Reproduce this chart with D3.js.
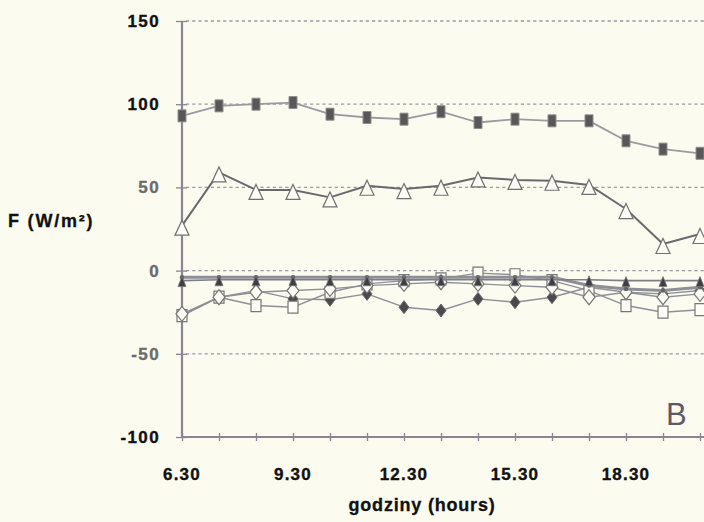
<!DOCTYPE html>
<html>
<head>
<meta charset="utf-8">
<script src="https://cdn.jsdelivr.net/npm/d3@7"></script>
<style>
  html, body { margin: 0; padding: 0; background: #fbfbf0; }
  svg { display: block; }
  text { font-family: "Liberation Sans", Arial, sans-serif; }
</style>
</head>
<body>
<svg id="chart" width="704" height="522"></svg>
<script>
// Hourly energy-balance fluxes, panel B
const hours = ["6.30","7.30","8.30","9.30","10.30","11.30","12.30","13.30","14.30","15.30","16.30","17.30","18.30","19.30","20.30"];
const labeledHours = ["6.30","9.30","12.30","15.30","18.30"];
const yTicks = [-100, -50, 0, 50, 100, 150];
const gridValues = [-50, 0, 50, 100, 150];

const netRadiation   = [93, 99, 100, 101, 94, 92, 91, 95.5, 89, 91, 90, 90, 78, 73, 70.5];
const openTriangles  = [27, 59, 48.5, 48.5, 44, 51, 49, 51, 56, 54.5, 54, 51.5, 37, 16, 22];
const filledDiamonds = [-27, -16, -12, -17, -17.5, -14, -22, -24, -17, -19, -16, -10, -13, -14, -12];
const openSquares    = [-27, -16, -21, -22, -13, -8, -6, -5, -1.5, -2.5, -6, -12, -21, -25, -23.5];
const openDiamonds   = [-26, -16, -13, -12, -11, -9, -8, -7, -8, -9, -10, -16, -13, -16, -14];
const smallDots      = [-4, -4, -4, -4, -4, -4, -4, -4, -4, -4, -4, -9, -11, -12, -10];
const filledTriangles= [-6, -5.5, -5.5, -5.5, -5.5, -5.5, -5.5, -5.5, -5.5, -5.5, -5.5, -5.5, -6, -6, -6];

const svg = d3.select("#chart");
const W = 704, H = 522;
svg.append("rect").attr("width", W).attr("height", H).attr("fill", "#fbfbf0");

const x = d3.scaleLinear().domain([0, hours.length - 1]).range([182, 700]);
const y = d3.scaleLinear().domain([-100, 150]).range([437, 21]);

// dotted gridlines
svg.append("g").selectAll("line").data(gridValues).join("line")
  .attr("x1", 186).attr("x2", W)
  .attr("y1", d => y(d)).attr("y2", d => y(d))
  .attr("stroke", "#9c9aa2").attr("stroke-width", 1.3)
  .attr("stroke-dasharray", "3.2,3");

// x axis (category ticks every hour)
const xAxis = d3.axisBottom(x)
  .tickValues(d3.range(0, 16))
  .tickSize(0)
  .tickFormat("");
const gx = svg.append("g").attr("transform", `translate(0,${y(-100)})`).call(xAxis);
gx.select(".domain").remove();
gx.append("line").attr("x1", 182).attr("x2", W).attr("y1", 0).attr("y2", 0)
  .attr("stroke", "#8a8494").attr("stroke-width", 2);
gx.selectAll(".tick").append("line")
  .attr("y1", -4).attr("y2", 4).attr("stroke", "#8a8494").attr("stroke-width", 1.3);

// x labels every third hour
svg.append("g").selectAll("text").data(labeledHours).join("text")
  .attr("x", d => x(hours.indexOf(d)))
  .attr("y", 480)
  .attr("text-anchor", "middle")
  .attr("font-size", 17).attr("font-weight", "bold")
  .attr("letter-spacing", 1.2)
  .attr("fill", "#111").attr("stroke", "#111").attr("stroke-width", 0.35)
  .text(d => d);

// y axis
const yAxis = d3.axisLeft(y).tickValues(yTicks).tickSize(0).tickFormat("");
const gy = svg.append("g").attr("transform", `translate(${x(0)},0)`).call(yAxis);
gy.select(".domain").remove();
gy.append("line").attr("x1", 0).attr("x2", 0).attr("y1", y(150)).attr("y2", y(-100))
  .attr("stroke", "#8a8494").attr("stroke-width", 2.2);
gy.selectAll(".tick").append("line")
  .attr("x1", -6).attr("x2", 5).attr("stroke", "#8a8494").attr("stroke-width", 1.3);

svg.append("g").selectAll("text").data(yTicks).join("text")
  .attr("x", 160)
  .attr("y", d => y(d) + 6)
  .attr("text-anchor", "end")
  .attr("font-size", 17).attr("font-weight", "bold")
  .attr("letter-spacing", 1.4)
  .attr("fill", d => (d === 150 || d === 100 || d === -100) ? "#111" : "#6c6c6c")
  .attr("stroke", d => (d === 150 || d === 100 || d === -100) ? "#111" : "#6c6c6c")
  .attr("stroke-width", 0.35)
  .text(d => d);

// axis titles
svg.append("text").attr("x", 8).attr("y", 227)
  .attr("font-size", 18).attr("font-weight", "bold").attr("fill", "#111")
  .attr("stroke", "#111").attr("stroke-width", 0.3)
  .attr("letter-spacing", 1.8)
  .text("F (W/m²)");
svg.append("text").attr("x", 422).attr("y", 511)
  .attr("text-anchor", "middle")
  .attr("font-size", 18).attr("font-weight", "bold").attr("fill", "#111")
  .attr("stroke", "#111").attr("stroke-width", 0.3)
  .attr("letter-spacing", 0.8)
  .text("godziny (hours)");
svg.append("text").attr("x", 666).attr("y", 425)
  .attr("font-size", 31).attr("fill", "#5f5868")
  .text("B");

// marker shapes
const shapes = {
  rect: (w, h) => `M${-w/2},${-h/2}h${w}v${h}h${-w}Z`,
  diamond: (w, h) => `M0,${-h/2}L${w/2},0L0,${h/2}L${-w/2},0Z`,
  triangle: (w, h) => `M0,${-h/2}L${w/2},${h/2}L${-w/2},${h/2}Z`,
  dot: (w) => d3.symbol(d3.symbolCircle, w * w).call(null)
};

const line = d3.line().x((d, i) => x(i)).y(d => y(d));

function drawSeries(values, opts) {
  const g = svg.append("g");
  g.append("path").datum(values)
    .attr("d", line)
    .attr("fill", "none")
    .attr("stroke", opts.lineColor)
    .attr("stroke-width", opts.lineWidth)
    .attr("stroke-linejoin", "round");
  g.selectAll("path.m").data(values).join("path")
    .attr("class", "m")
    .attr("transform", (d, i) => `translate(${x(i)},${y(d) + (opts.dy || 0)})`)
    .attr("d", shapes[opts.shape](opts.w, opts.h))
    .attr("fill", opts.fill)
    .attr("stroke", opts.stroke)
    .attr("stroke-width", opts.strokeWidth);
}

drawSeries(netRadiation, {lineColor: "#9a9aa2", lineWidth: 1.8, shape: "rect", w: 8, h: 12,
  fill: "#585858", stroke: "#8f8f8f", strokeWidth: 1});
drawSeries(openTriangles, {lineColor: "#6a6a6e", lineWidth: 2, shape: "triangle", w: 14, h: 15, dy: 2,
  fill: "#fdfdf6", stroke: "#707070", strokeWidth: 1.2});
drawSeries(filledDiamonds, {lineColor: "#8f8f98", lineWidth: 1.4, shape: "diamond", w: 10, h: 13,
  fill: "#4a4a4e", stroke: "#6a6a6a", strokeWidth: 1});
drawSeries(openSquares, {lineColor: "#8f8f98", lineWidth: 1.4, shape: "rect", w: 10, h: 12,
  fill: "#fdfdf6", stroke: "#777", strokeWidth: 1.2});
drawSeries(openDiamonds, {lineColor: "#8f8f98", lineWidth: 1.4, shape: "diamond", w: 12, h: 15,
  fill: "#fdfdf6", stroke: "#777", strokeWidth: 1.2});
drawSeries(smallDots, {lineColor: "#8e8e96", lineWidth: 3, shape: "dot", w: 4, h: 4,
  fill: "#666", stroke: "none", strokeWidth: 0});
drawSeries(filledTriangles, {lineColor: "#7e7e86", lineWidth: 1.6, shape: "triangle", w: 8, h: 10, dy: 1,
  fill: "#3e3e44", stroke: "#777", strokeWidth: 0.8});
</script>
</body>
</html>
